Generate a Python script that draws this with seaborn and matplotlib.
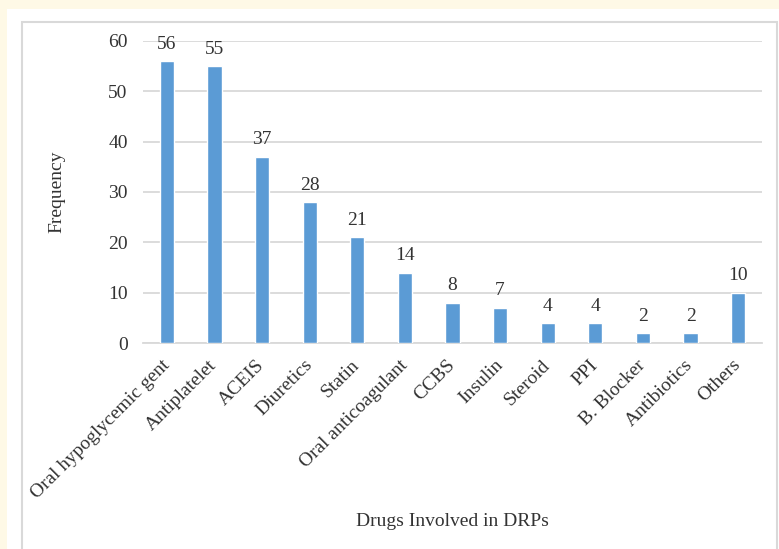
import matplotlib
matplotlib.use("Agg")
import matplotlib.pyplot as plt
import seaborn as sns
import pandas as pd
from matplotlib.patches import Rectangle

categories = ["Oral hypoglycemic gent", "Antiplatelet", "ACEIS", "Diuretics", "Statin",
              "Oral anticoagulant", "CCBS", "Insulin", "Steroid", "PPI", "B. Blocker",
              "Antibiotics", "Others"]
frequency = [56, 55, 37, 28, 21, 14, 8, 7, 4, 4, 2, 2, 10]
y_ticks = [0, 10, 20, 30, 40, 50, 60]

sns.set_style("white")
plt.rcParams['font.family'] = ['Liberation Serif', 'DejaVu Serif']

W, H = 779, 549
fig = plt.figure(figsize=(W / 100, H / 100), dpi=100, facecolor='#FEF9E6')

# white panel and grey frame
fig.patches.append(Rectangle((7 / W, 0), 1, (H - 9) / H, transform=fig.transFigure,
                             facecolor='white', edgecolor='none', zorder=-10))
fig.patches.append(Rectangle((22 / W, -0.1), (777 - 22) / W, 1 - 22 / H + 0.1,
                             transform=fig.transFigure, facecolor='none',
                             edgecolor='#D9D9D9', lw=1.5, zorder=-5))

ax = fig.add_axes([143 / W, (H - 343) / H, 619 / W, 302 / H])
ax.set_zorder(5)
ax.set_facecolor('none')

df = pd.DataFrame({"Drug": categories, "Frequency": frequency})
sns.barplot(data=df, x="Drug", y="Frequency", color='#5B9BD5', width=0.3,
            saturation=1, ax=ax, zorder=3)

for c in ax.containers:
    ax.bar_label(c, padding=6, fontsize=14, color='#333333')

ax.set_ylim(0, 60)
ax.set_xlim(-0.5, len(categories) - 0.5)
ax.set_yticks(y_ticks)
ax.yaxis.grid(True, color='#D9D9D9', lw=1.3, zorder=0)
ax.set_axisbelow(True)
for s in ['top', 'right', 'left']:
    ax.spines[s].set_visible(False)
ax.spines['bottom'].set_color('#D9D9D9')
ax.spines['bottom'].set_linewidth(1.3)
ax.tick_params(axis='both', length=0, labelsize=14, colors='#333333')
ax.tick_params(axis='y', pad=11)
ax.tick_params(axis='x', pad=14)
plt.setp(ax.get_xticklabels(), rotation=45, ha='right', va='center',
         rotation_mode='anchor')

ax.set_xlabel("Drugs Involved in DRPs", fontsize=14, color='#333333')
ax.set_ylabel("Frequency", fontsize=14, color='#333333')
ax.xaxis.set_label_coords(0.5, -0.563)
ax.yaxis.set_label_coords(-0.126, 0.5)

fig.savefig("out.png", dpi=100, facecolor=fig.get_facecolor())
